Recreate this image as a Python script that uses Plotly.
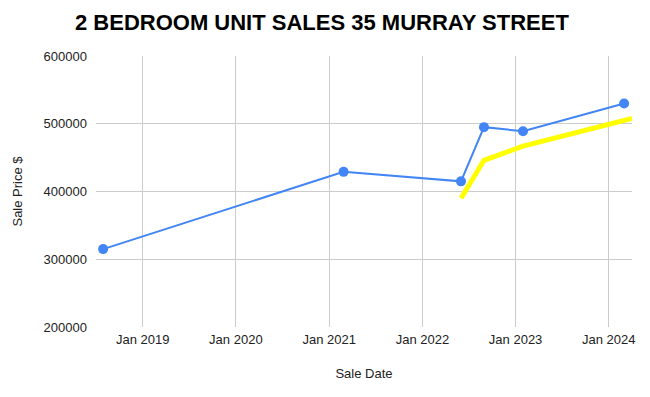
import plotly.graph_objects as go

sale_dates = ["2018-07-30", "2021-02-26", "2022-06-01", "2022-08-30", "2023-01-30", "2024-03-01"]
sale_prices = [315000, 429000, 415000, 495000, 489000, 530000]

trend_dates = ["2022-06-01", "2022-08-30", "2023-01-30", "2024-04-01"]
trend_prices = [390000, 446000, 467000, 508000]

tick_dates = ["2019-01-01", "2020-01-01", "2021-01-01", "2022-01-01", "2023-01-01", "2024-01-01"]
tick_labels = ["Jan 2019", "Jan 2020", "Jan 2021", "Jan 2022", "Jan 2023", "Jan 2024"]
y_ticks = [200000, 300000, 400000, 500000, 600000]

fig = go.Figure()
fig.add_trace(go.Scatter(
    x=trend_dates, y=trend_prices, mode="lines",
    line=dict(color="#FFFF00", width=5), hoverinfo="skip", showlegend=False,
))
fig.add_trace(go.Scatter(
    x=sale_dates, y=sale_prices, mode="lines+markers",
    line=dict(color="#4285F4", width=2),
    marker=dict(color="#4285F4", size=10), showlegend=False,
))

# page body has an 8px margin, so margins are offset by 8px
fig.update_layout(
    width=650, height=397,
    margin=dict(l=88, r=26, t=48, b=78, autoexpand=False),
    paper_bgcolor="white", plot_bgcolor="white",
    font=dict(family="Liberation Sans, Arial, sans-serif", size=13, color="#222222"),
    title=dict(text="<b>2 BEDROOM UNIT SALES 35 MURRAY STREET</b>",
               x=0.483, xanchor="center", y=1 - 14 / 397, yanchor="middle",
               font=dict(size=22, color="#000000")),
    xaxis=dict(
        type="date", range=["2018-07-02", "2024-04-01"],
        tickvals=tick_dates, ticktext=tick_labels,
        showgrid=True, gridcolor="#CCCCCC", gridwidth=1,
        zeroline=False, showline=False, ticks="", ticklabelstandoff=3,
        tickfont=dict(size=13, color="#222222"),
        title=dict(text="Sale Date", font=dict(size=13, color="#222222"), standoff=22),
    ),
    yaxis=dict(
        range=[200000, 600000], tickvals=y_ticks,
        tickformat="d",
        showgrid=True, gridcolor="#CCCCCC", gridwidth=1,
        zeroline=False, showline=False, ticks="", ticklabelstandoff=8,
        tickfont=dict(size=13, color="#222222"),
        title=dict(text="Sale Price $", font=dict(size=13, color="#222222"), standoff=18),
    ),
)

fig.write_html("out.html")
